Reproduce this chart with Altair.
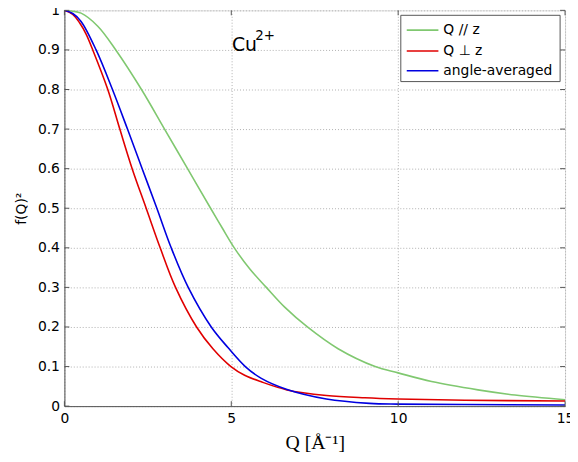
import altair as alt
import pandas as pd

# ---- data ----
q_par = [0, 0.5, 1.0, 1.54, 2.31, 3.0, 3.69, 4.38, 4.73, 5.09, 5.55, 6.05, 6.6, 7.28, 8.2, 9.31, 10.0, 11.0, 12.39, 13.5, 15.0]
f_par = [1.0, 0.993, 0.96, 0.90, 0.80, 0.70, 0.60, 0.50, 0.45, 0.40, 0.347, 0.30, 0.25, 0.20, 0.145, 0.10, 0.084, 0.062, 0.041, 0.028, 0.016]

q_perp = [0, 0.25, 0.46, 0.65, 0.85, 1.30, 1.66, 2.03, 2.45, 2.87, 3.33, 3.96, 4.45, 4.99, 5.4, 5.88, 6.67, 7.85, 9.0, 10.0, 12.0, 15.0]
f_perp = [1.0, 0.99, 0.968, 0.94, 0.90, 0.80, 0.70, 0.60, 0.50, 0.40, 0.30, 0.20, 0.145, 0.10, 0.078, 0.062, 0.041, 0.027, 0.021, 0.018, 0.015, 0.013]

q_avg = [0, 0.25, 0.5, 0.95, 1.44, 1.89, 2.33, 2.77, 3.2, 3.71, 4.40, 4.9, 5.42, 5.9, 6.67, 7.85, 9.14, 10.0, 12.0, 15.0]
f_avg = [1.0, 0.992, 0.972, 0.90, 0.80, 0.70, 0.60, 0.50, 0.40, 0.30, 0.20, 0.148, 0.10, 0.07, 0.042, 0.018, 0.007, 0.005, 0.004, 0.003]

series_names = ["Q // z", "Q \u22a5 z", "angle-averaged"]
series_colors = ["#80c870", "#e00000", "#0000e0"]

x_ticks = [0, 5, 10, 15]
y_ticks = [0, 0.1, 0.2, 0.3, 0.4, 0.5, 0.6, 0.7, 0.8, 0.9, 1.0]

rows = []
for name, qs, fs in zip(series_names, [q_par, q_perp, q_avg], [f_par, f_perp, f_avg]):
    for i, (q, f) in enumerate(zip(qs, fs)):
        rows.append({"series": name, "Q": q, "f": f, "order": i})
df = pd.DataFrame(rows)

xscale = alt.Scale(domain=[0, 15], nice=False)
yscale = alt.Scale(domain=[0, 1], nice=False)
cscale = alt.Scale(domain=series_names, range=series_colors)

FONT = "DejaVu Sans"

xaxis = alt.Axis(values=x_ticks, title="Q [\u00c5\u207b\u00b9]", titleFont="Liberation Serif",
                 titleFontSize=20, titleFontWeight="normal", titleColor="black",
                 titlePadding=7, labelFont=FONT, labelFontSize=14, labelColor="black",
                 labelPadding=6, labelFlush=False, labelOverlap=False, ticks=False,
                 grid=True, gridDash=[1, 2], gridColor="#b0b0b0", domainColor="#555555")
yaxis = alt.Axis(values=y_ticks, title="f(Q)\u00b2", titleFont=FONT, titleFontSize=14,
                 titleFontWeight="normal", titleColor="black", titlePadding=9,
                 labelFont=FONT, labelFontSize=14, labelColor="black", labelPadding=5,
                 labelFlush=False, labelOverlap=False,
                 ticks=False, grid=True, gridDash=[1, 2], gridColor="#b0b0b0",
                 domainColor="#555555",
                 labelExpr="datum.value == 0 ? '0' : datum.value == 1 ? '1' : format(datum.value, '.1f')")

X = lambda: alt.X("Q:Q", scale=xscale, axis=xaxis)
Y = lambda: alt.Y("f:Q", scale=yscale, axis=yaxis)

lines = alt.Chart(df).mark_line(strokeWidth=1.6, interpolate="catmull-rom", clip=True).encode(
    x=X(), y=Y(),
    color=alt.Color("series:N", scale=cscale, legend=None),
    order="order:Q",
)

# inward tick marks (MATLAB style)
xt = pd.DataFrame({"Q": x_ticks})
yt = pd.DataFrame({"f": y_ticks})
xticks_bottom = alt.Chart(xt).mark_rule(color="#555555").encode(
    x=X(), y=alt.value(400), y2=alt.value(395))
xticks_top = alt.Chart(xt).mark_rule(color="#555555").encode(
    x=X(), y=alt.value(0), y2=alt.value(5))
yticks_left = alt.Chart(yt).mark_rule(color="#555555").encode(
    y=Y(), x=alt.value(0), x2=alt.value(5))
yticks_right = alt.Chart(yt).mark_rule(color="#555555").encode(
    y=Y(), x=alt.value(506), x2=alt.value(501))

ann_main = pd.DataFrame({"Q": [5.02], "f": [0.8975], "t": ["Cu"]})
ann_sup = pd.DataFrame({"Q": [5.72], "f": [0.926], "t": ["2+"]})
t1 = alt.Chart(ann_main).mark_text(align="left", baseline="alphabetic", font=FONT, fontSize=19, color="black").encode(
    x=X(), y=Y(), text="t:N")
t2 = alt.Chart(ann_sup).mark_text(align="left", baseline="alphabetic", font=FONT, fontSize=13.5, color="black").encode(
    x=X(), y=Y(), text="t:N")

# legend box (MATLAB style, inside the plot, upper right)
one = pd.DataFrame({"k": [0]})
legend_layers = [
    alt.Chart(one).mark_rect(fill="white", stroke="#555555", strokeWidth=1).encode(
        x=alt.value(340), x2=alt.value(501), y=alt.value(5), y2=alt.value(72))
]
row_y = [20, 41, 61]
for name, col, ry in zip(series_names, series_colors, row_y):
    legend_layers.append(alt.Chart(one).mark_rule(strokeWidth=1.6, color=col).encode(
        x=alt.value(346), x2=alt.value(378), y=alt.value(ry)))
    legend_layers.append(alt.Chart(one).mark_text(align="left", baseline="middle", font=FONT,
                                                  fontSize=14, color="black", text=name).encode(
        x=alt.value(383), y=alt.value(ry)))

chart = alt.layer(lines, xticks_bottom, xticks_top, yticks_left, yticks_right, t1, t2,
                  *legend_layers).properties(
    width=506, height=400,
    autosize=alt.AutoSizeParams(type="none"),
    padding={"left": 57, "top": 0, "right": 5, "bottom": 45},
).configure_view(stroke="#555555", strokeWidth=1).configure(background="white")

chart.save("out.html", embed_options={"renderer": "svg", "actions": False})
